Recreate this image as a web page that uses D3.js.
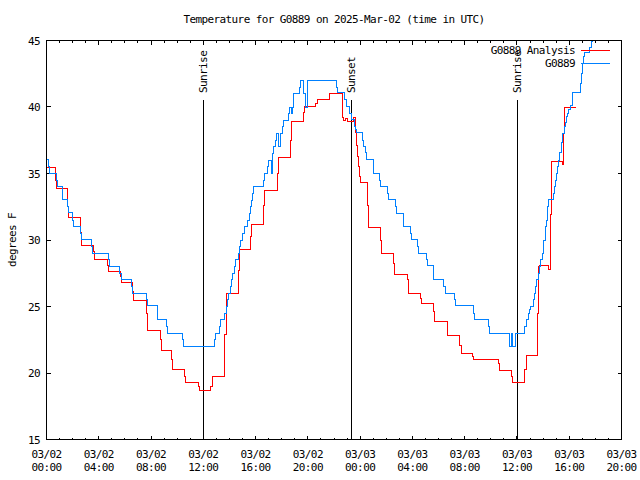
<!DOCTYPE html>
<html><head><meta charset="utf-8">
<script src="https://cdn.jsdelivr.net/npm/d3@7"></script>
<style>
body{margin:0;background:#fff}
svg{display:block}
text{font-family:"DejaVu Sans Mono","Liberation Mono",monospace;font-size:11px;letter-spacing:-0.6px;fill:#000}
</style>
</head><body>
<svg id="c" width="640" height="480"></svg>
<script>
const title = "Temperature for G0889 on 2025-Mar-02 (time in UTC)";
const yLabel = "degrees F";
const seriesNames = ["G0889 Analysis", "G0889"];
const seriesColors = ["#ff0000", "#0080ff"];

// hours since 2025-03-02 00:00 UTC
const anaHours = [0.00,0.71,0.80,1.63,1.71,2.60,2.68,3.58,3.68,4.69,4.78,5.66,5.74,6.58,6.68,7.65,7.75,8.72,8.77,9.59,9.66,10.56,10.66,11.63,11.68,12.57,12.70,13.64,13.75,14.71,14.76,15.63,15.70,16.63,16.70,17.65,17.73,18.67,18.74,19.69,19.76,20.60,20.71,21.63,22.62,22.67,22.75,22.85,23.00,23.52,23.62,23.72,23.80,23.90,23.98,24.05,24.58,24.66,25.58,25.65,26.57,26.65,27.60,27.70,28.62,28.69,29.63,29.68,30.66,30.70,31.62,31.73,32.57,32.65,33.67,34.56,34.66,35.58,35.68,36.60,36.70,37.59,37.67,37.72,38.39,38.56,38.63,39.46,39.58,39.63,40.55];
const anaTemps = [35.45,34.5,33.88,32.55,31.7,30.6,29.55,29.1,28.5,28.05,27.65,27.25,26.8,26.1,25.45,24.5,23.2,22.5,21.7,21.0,20.3,19.7,19.25,18.95,18.65,19.0,19.7,22.9,26.0,27.7,29.3,30.25,31.15,32.6,33.7,35.0,36.2,37.5,38.9,39.6,40.05,40.3,40.55,41.0,40.0,39.2,39.0,39.15,38.9,39.2,38.1,37.1,36.3,35.5,34.75,34.3,32.6,30.97,30.0,29.0,28.2,27.4,27.0,26.0,25.6,25.25,24.6,23.9,23.4,22.8,22.1,21.5,21.25,20.98,21.05,20.75,20.2,19.75,19.25,20.25,21.3,24.5,28.0,28.1,27.8,31.9,35.9,35.7,38.0,39.95,39.95];

const obsHours = [0.00,0.18,0.25,0.77,0.86,1.20,1.25,1.63,1.71,1.99,2.09,2.60,2.68,3.42,3.50,4.77,4.84,5.61,5.72,6.50,6.56,7.65,7.75,8.47,8.52,9.16,9.24,10.43,10.51,12.86,12.93,13.26,13.34,13.62,13.74,13.83,13.95,14.08,14.16,14.26,14.36,14.46,14.67,14.77,14.87,15.02,15.15,15.40,15.53,15.61,15.68,15.79,15.86,16.63,16.70,16.89,16.99,17.19,17.27,17.35,17.52,17.60,17.78,17.91,18.04,18.16,18.54,18.62,18.72,18.80,18.92,19.38,19.44,19.69,19.82,19.97,22.19,22.29,22.80,22.93,23.21,23.31,23.57,23.65,23.72,24.16,24.24,24.41,24.49,25.00,25.05,25.51,25.58,26.12,26.19,26.71,26.78,27.30,27.34,27.85,27.91,28.41,28.49,29.08,29.13,29.59,29.64,30.40,30.53,31.24,31.32,32.70,32.78,33.80,33.88,35.45,35.60,35.68,35.91,36.60,36.71,36.91,36.99,37.04,37.29,37.36,37.42,37.47,37.63,37.73,37.80,37.93,38.01,38.06,38.16,38.21,38.26,38.31,38.36,38.44,38.77,38.87,38.95,39.03,39.13,39.21,39.28,39.39,39.46,39.64,39.72,39.79,39.89,39.97,40.10,40.23,40.28,40.87,40.94,41.02,41.12,41.20,41.57,41.71,41.78,41.93,42.10];
const obsTemps = [36.05,35.5,35.0,34.5,34.0,33.6,33.05,32.5,32.05,31.5,31.05,30.5,30.05,29.5,29.0,28.5,28.0,27.5,27.0,26.5,26.0,25.5,25.05,24.5,24.0,23.5,23.0,22.5,22.0,22.5,23.0,23.5,24.0,24.5,25.0,25.5,26.0,26.5,27.0,27.5,28.0,28.5,29.0,29.5,30.0,30.5,31.0,31.5,32.0,32.5,33.0,33.5,34.0,34.5,35.0,35.5,36.0,35.0,36.5,37.0,37.5,38.0,37.0,38.0,38.5,39.0,39.5,40.0,39.5,40.0,41.0,41.5,42.0,41.0,40.0,42.0,41.5,41.1,40.55,40.05,39.5,39.05,38.5,38.3,38.05,37.5,37.05,36.55,36.05,35.5,35.0,34.5,34.05,33.5,33.05,32.5,32.0,31.5,31.05,30.5,30.05,29.5,29.0,28.5,28.05,27.5,27.0,26.5,26.0,25.5,25.05,24.5,24.0,23.5,23.0,22.0,23.0,22.0,23.0,23.5,24.0,24.5,24.8,25.0,25.5,26.0,26.5,27.0,27.5,28.0,28.5,29.0,29.5,30.0,30.5,31.0,31.5,32.0,32.5,33.05,33.5,34.0,34.5,35.0,35.5,36.0,36.6,37.3,38.0,38.5,38.8,39.25,39.5,39.8,40.1,40.6,41.1,41.8,42.5,43.3,43.8,44.1,44.5,44.9,45.5,46.0,46.0];

const eventNames = ["Sunrise", "Sunset", "Sunrise"];
const eventHours = [12.04, 23.37, 36.06];

const yTicks = [15, 20, 25, 30, 35, 40, 45];
const xMajorHours = [0, 4, 8, 12, 16, 20, 24, 28, 32, 36, 40, 44];
const spanHours = 44;

const t0 = Date.UTC(2025, 2, 2, 0, 0);
const toDate = h => new Date(t0 + h * 3600e3);

const L = 46.5, R = 621.5, T = 40.5, B = 439.5;
const svg = d3.select("#c");
const x = d3.scaleUtc().domain([toDate(0), toDate(spanHours)]).range([L, R]);
const y = d3.scaleLinear().domain([15, 45]).range([B, T]);

svg.append("defs").append("clipPath").attr("id", "clip")
  .append("rect").attr("x", L).attr("y", T).attr("width", R - L).attr("height", B - T);

// ticks
const g = svg.append("g").attr("stroke", "#000").attr("stroke-width", 1).attr("shape-rendering", "crispEdges");
const minor = x.ticks(d3.utcHour.every(1));
minor.forEach(d => {
  const px = Math.round(x(d) - 0.5) + 0.5;
  g.append("line").attr("x1", px).attr("x2", px).attr("y1", B).attr("y2", B - 2);
  g.append("line").attr("x1", px).attr("x2", px).attr("y1", T).attr("y2", T + 2);
});
xMajorHours.forEach(h => {
  const px = Math.round(x(toDate(h)) - 0.5) + 0.5;
  g.append("line").attr("x1", px).attr("x2", px).attr("y1", B).attr("y2", B - 4);
  g.append("line").attr("x1", px).attr("x2", px).attr("y1", T).attr("y2", T + 4);
});
yTicks.forEach(v => {
  const py = Math.round(y(v) - 0.5) + 0.5;
  g.append("line").attr("x1", L).attr("x2", L + 4).attr("y1", py).attr("y2", py);
  g.append("line").attr("x1", R).attr("x2", R - 4).attr("y1", py).attr("y2", py);
});

// tick labels
yTicks.forEach(v => {
  svg.append("text").attr("x", 40).attr("y", y(v) + 4).attr("text-anchor", "end").text(v);
});
const fDate = d3.utcFormat("%m/%d"), fTime = d3.utcFormat("%H:%M");
xMajorHours.forEach(h => {
  const d = toDate(h);
  const t = svg.append("text").attr("text-anchor", "middle");
  t.append("tspan").attr("x", x(d)).attr("y", 458).text(fDate(d));
  t.append("tspan").attr("x", x(d)).attr("y", 471).text(fTime(d));
});

// event lines
eventHours.forEach((h, i) => {
  const px = Math.round(x(toDate(h)) - 0.5) + 0.5;
  svg.append("line").attr("x1", px).attr("x2", px).attr("y1", 100).attr("y2", B)
    .attr("stroke", "#000").attr("shape-rendering", "crispEdges");
  svg.append("text").attr("transform", `translate(${px},93) rotate(-90)`)
    .attr("text-anchor", "start").attr("dy", "0.35em").text(eventNames[i]);
});

// data
const line = d3.line().x(d => x(toDate(d[0]))).y(d => y(d[1])).curve(d3.curveStepAfter);
const series = [
  anaHours.map((h, i) => [h, anaTemps[i]]),
  obsHours.map((h, i) => [h, obsTemps[i]])
];
const dg = svg.append("g").attr("clip-path", "url(#clip)");
series.forEach((s, i) => {
  dg.append("path").attr("d", line(s)).attr("fill", "none")
    .attr("stroke", seriesColors[i]).attr("stroke-width", 1).attr("shape-rendering", "crispEdges");
});

// frame
svg.append("rect").attr("x", L).attr("y", T).attr("width", R - L).attr("height", B - T)
  .attr("fill", "none").attr("stroke", "#000").attr("shape-rendering", "crispEdges");

// legend
seriesNames.forEach((n, i) => {
  const ly = 50 + i * 13;
  svg.append("text").attr("x", 575).attr("y", ly + 4).attr("text-anchor", "end").text(n);
  svg.append("line").attr("x1", 581).attr("x2", 610).attr("y1", ly + 0.5).attr("y2", ly + 0.5)
    .attr("stroke", seriesColors[i]).attr("shape-rendering", "crispEdges");
});

// title and axis label
svg.append("text").attr("x", 334).attr("y", 23).attr("text-anchor", "middle").text(title);
svg.append("text").attr("transform", "translate(12,240) rotate(-90)").attr("text-anchor", "middle")
  .attr("dy", "0.35em").text(yLabel);
</script>
</body></html>
